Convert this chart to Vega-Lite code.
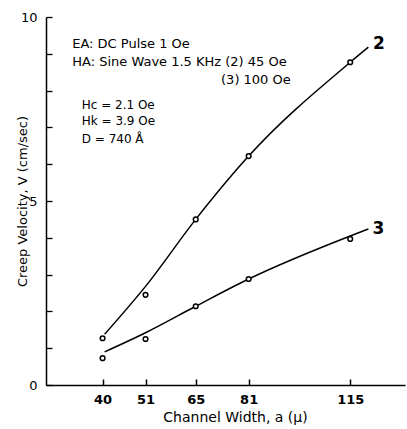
{
  "$schema": "https://vega.github.io/schema/vega-lite/v6.json",
  "width": 359,
  "height": 368,
  "autosize": {"type": "none"},
  "padding": {"left": 46, "top": 17, "right": 2, "bottom": 44},
  "background": "white",
  "config": {"view": {"stroke": null}, "font": "DejaVu Sans"},
  "datasets": {
    "pts": [
      {"series": "2", "a": 40, "V": 1.27},
      {"series": "2", "a": 51, "V": 2.45},
      {"series": "2", "a": 65, "V": 4.5},
      {"series": "2", "a": 81, "V": 6.22},
      {"series": "2", "a": 115, "V": 8.77},
      {"series": "3", "a": 40, "V": 0.73},
      {"series": "3", "a": 51, "V": 1.25},
      {"series": "3", "a": 65, "V": 2.14},
      {"series": "3", "a": 81, "V": 2.88},
      {"series": "3", "a": 115, "V": 3.97}
    ],
    "fits": [
      {"series": "2", "a": 40.5, "V": 1.38},
      {"series": "2", "a": 51, "V": 2.68},
      {"series": "2", "a": 65, "V": 4.5},
      {"series": "2", "a": 81, "V": 6.22},
      {"series": "2", "a": 115, "V": 8.77},
      {"series": "2", "a": 121.5, "V": 9.18},
      {"series": "3", "a": 40.5, "V": 0.9},
      {"series": "3", "a": 51, "V": 1.42},
      {"series": "3", "a": 65, "V": 2.14},
      {"series": "3", "a": 81, "V": 2.88},
      {"series": "3", "a": 115, "V": 4.05},
      {"series": "3", "a": 121.5, "V": 4.24}
    ],
    "labels": [
      {"a": 123.2, "V": 9.26, "text": "2"},
      {"a": 123.0, "V": 4.24, "text": "3"}
    ],
    "notes": [
      {"a": 32.8, "V": 9.27, "text": "EA: DC Pulse 1 Oe"},
      {"a": 32.8, "V": 8.78, "text": "HA: Sine Wave 1.5 KHz (2) 45 Oe"},
      {"a": 72.5, "V": 8.29, "text": "(3) 100 Oe"}
    ],
    "params": [
      {"a": 35.0, "V": 7.61, "text": "Hc = 2.1 Oe"},
      {"a": 35.0, "V": 7.17, "text": "Hk = 3.9 Oe"},
      {"a": 35.0, "V": 6.68, "text": "D = 740 Å"}
    ]
  },
  "encoding": {
    "x": {
      "field": "a", "type": "quantitative",
      "scale": {"type": "pow", "exponent": 0.65, "domain": [27, 135], "nice": false, "zero": false},
      "axis": {
        "values": [40, 51, 65, 81, 115],
        "title": "Channel Width, a (μ)",
        "titleFont": "DejaVu Sans", "titleFontSize": 14, "titleFontWeight": "normal", "titleColor": "black",
        "titlePadding": 4, "titleX": 189, "titleAlign": "center",
        "labelFont": "DejaVu Sans", "labelFontSize": 13, "labelFontWeight": "bold", "labelColor": "black",
        "labelPadding": 14,
        "domainColor": "black", "domainWidth": 1.5,
        "tickColor": "black", "tickWidth": 1.5, "tickSize": -6,
        "grid": false
      }
    },
    "y": {
      "field": "V", "type": "quantitative",
      "scale": {"domain": [0, 10], "nice": false},
      "axis": {
        "values": [0, 1, 2, 3, 4, 5, 6, 7, 8, 9, 10],
        "labelExpr": "datum.value % 5 == 0 ? datum.label : ''",
        "title": "Creep Velocity, V (cm/sec)",
        "titleFont": "DejaVu Sans", "titleFontSize": 13, "titleFontWeight": "normal", "titleColor": "black",
        "titleX": -24, "titleBaseline": "middle",
        "labelFont": "DejaVu Sans", "labelFontSize": 13, "labelColor": "black",
        "labelPadding": 15,
        "domainColor": "black", "domainWidth": 1.5,
        "tickColor": "black", "tickWidth": 1.3, "tickSize": -6,
        "grid": false
      }
    }
  },
  "layer": [
    {
      "data": {"name": "fits"},
      "mark": {"type": "line", "interpolate": "monotone", "color": "black", "strokeWidth": 1.5},
      "encoding": {"detail": {"field": "series"}}
    },
    {
      "data": {"name": "pts"},
      "mark": {"type": "point", "shape": "circle", "filled": true, "fill": "white", "stroke": "black", "strokeWidth": 1.5, "size": 22, "opacity": 1}
    },
    {
      "data": {"name": "labels"},
      "mark": {"type": "text", "align": "left", "baseline": "middle", "fontSize": 17, "fontWeight": "bold", "color": "black"},
      "encoding": {"text": {"field": "text"}}
    },
    {
      "data": {"name": "notes"},
      "mark": {"type": "text", "align": "left", "baseline": "middle", "fontSize": 13, "color": "black"},
      "encoding": {"text": {"field": "text"}}
    },
    {
      "data": {"name": "params"},
      "mark": {"type": "text", "align": "left", "baseline": "middle", "fontSize": 12, "color": "black"},
      "encoding": {"text": {"field": "text"}}
    }
  ]
}
